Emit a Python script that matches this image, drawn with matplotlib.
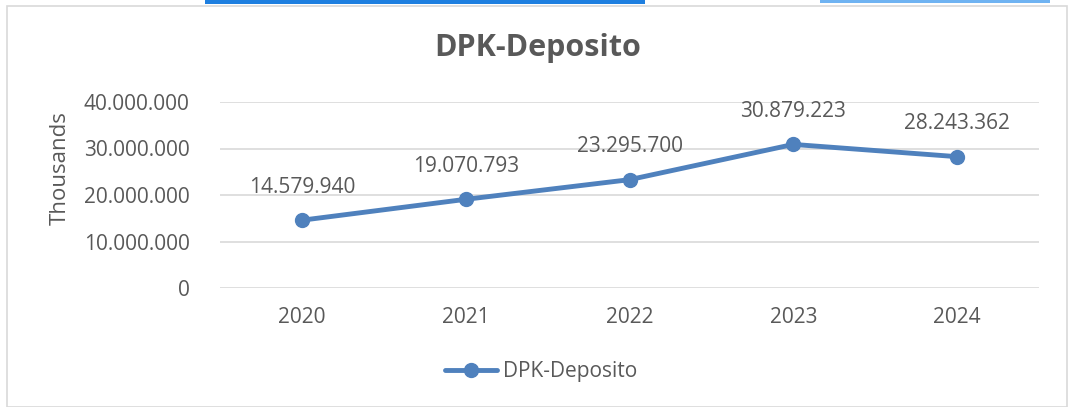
import matplotlib.pyplot as plt
from matplotlib.patches import Rectangle
from matplotlib.ticker import FuncFormatter

years = ["2020", "2021", "2022", "2023", "2024"]
values = [14579940, 19070793, 23295700, 30879223, 28243362]
series_name = "DPK-Deposito"

plt.rcParams['font.family'] = ['Open Sans', 'DejaVu Sans']
blue = "#4F81BD"
grey = "#595959"

def fmt(v, pos=None):
    return f"{int(v):,}".replace(",", ".")

W, H = 1073, 407
fig = plt.figure(figsize=(W/100, H/100), dpi=100)
# chart frame and top strip
fig.patches.append(Rectangle((7/W, 0), 1060/W, 1 - 6/H, transform=fig.transFigure,
                             fill=False, edgecolor="#D9D9D9", linewidth=1.2))
fig.patches.append(Rectangle((205/W, 1 - 4/H), 440/W, 4/H, transform=fig.transFigure,
                             color="#1E7FE0", linewidth=0))
fig.patches.append(Rectangle((820/W, 1 - 3/H), 230/W, 3/H, transform=fig.transFigure,
                             color="#6FB3F2", linewidth=0))

ax = fig.add_axes([220/W, 1 - 288/H, (1039-220)/W, (288-102)/H])
x = range(len(years))
ax.plot(x, values, color=blue, linewidth=3.5, marker="o", markersize=10,
        label=series_name, solid_capstyle="round")
for i, v in zip(x, values):
    ax.annotate(fmt(v), (i, v), xytext=(0, 16), textcoords="offset points",
                ha="center", va="bottom", fontsize=15, color=grey)

ax.set_xlim(-0.5, len(years) - 0.5)
ax.set_ylim(0, 40000000)
ax.set_yticks([0, 10000000, 20000000, 30000000, 40000000])
ax.yaxis.set_major_formatter(FuncFormatter(fmt))
ax.set_xticks(list(x))
ax.set_xticklabels(years)
ax.grid(axis="y", color="#D9D9D9", linewidth=1.2)
ax.set_axisbelow(True)
for s in ax.spines.values():
    s.set_visible(False)
ax.tick_params(length=0, labelsize=15, colors=grey)
ax.tick_params(axis="y", pad=22)
ax.tick_params(axis="x", pad=14)

fig.text(60/W, 1 - 168/H, "Thousands", rotation=90, ha="center", va="center",
         fontsize=16, color=grey)
fig.text(538/W, 1 - 48/H, "DPK-Deposito", ha="center", va="center",
         fontsize=22, fontweight="bold", color=grey)
fig.legend(loc="center", bbox_to_anchor=(541/W, 1 - 372/H), frameon=False,
           fontsize=15, labelcolor=grey, handlelength=2.5, handletextpad=0.3)

fig.savefig("out.png", dpi=100, facecolor="white")
